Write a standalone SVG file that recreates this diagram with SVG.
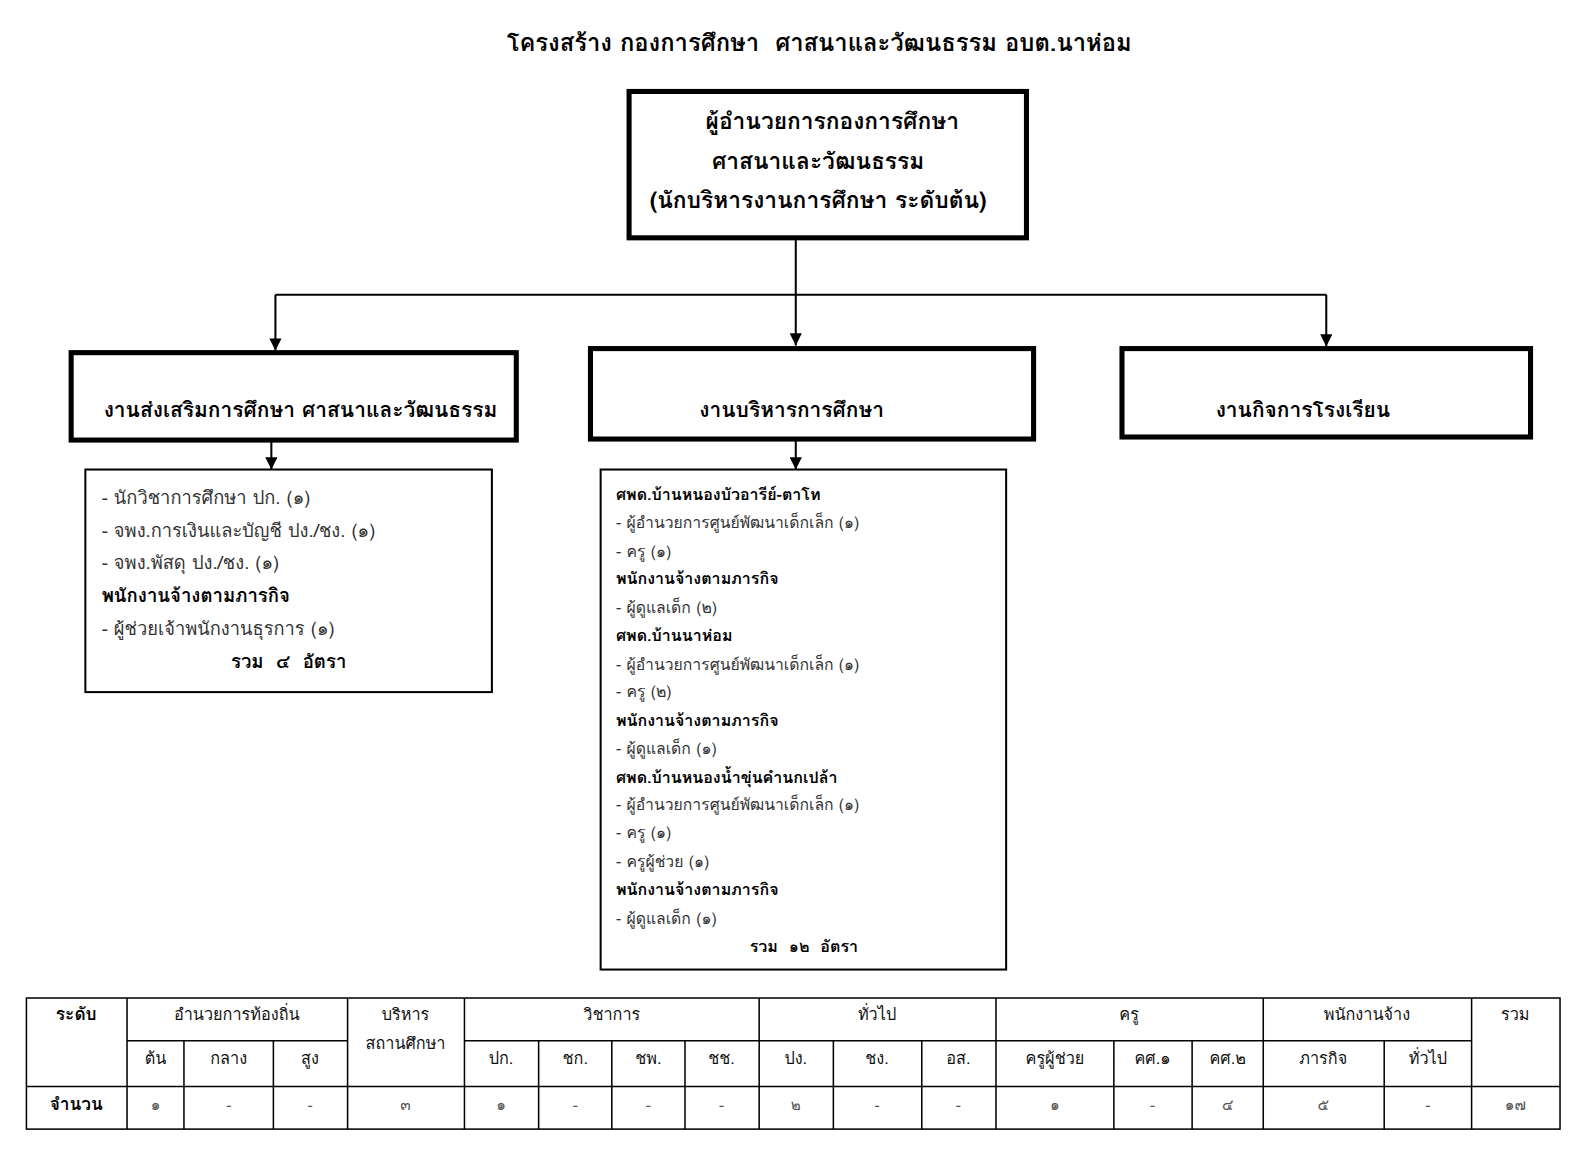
<svg xmlns="http://www.w3.org/2000/svg" width="1593" height="1158" viewBox="0 0 1593 1158">
<defs>
<marker id="arr" viewBox="0 0 12 12" refX="12" refY="6" markerWidth="12" markerHeight="12" markerUnits="userSpaceOnUse" orient="auto">
<path d="M0,0 L12,6 L0,12 z" fill="#000"/>
</marker>
<style>
text{font-family:"Tahoma","Loma","Garuda","Waree","Noto Sans Thai Looped","Noto Sans Thai","Noto Sans","DejaVu Sans",sans-serif;fill:#000;white-space:pre}
.title{font-size:23.4px;font-weight:bold}
.h{font-size:22.4px;font-weight:bold}
.hb{font-size:20.6px;font-weight:bold}
.it{font-size:18px;fill:#333}
.bd{font-size:18.3px;font-weight:bold}
.it2{font-size:15.5px;fill:#333}
.bd2{font-size:15.8px;font-weight:bold}
.th{font-size:16px;fill:#111}
.tb{font-size:17px;font-weight:bold}
.td{font-size:15px;fill:#555}
.thick{fill:#fff;stroke:#000;stroke-width:5}
.thin{fill:#fff;stroke:#000;stroke-width:2}
.con{fill:none;stroke:#000;stroke-width:2}
.grid{stroke:#000;stroke-width:1.5;fill:none}
</style>
</defs>
<rect width="1593" height="1158" fill="#fff"/>
<g transform="scale(1.0163)">
<text class="title" x="806" y="50" text-anchor="middle">โครงสร้าง กองการศึกษา  ศาสนาและวัฒนธรรม อบต.นาห่อม</text>

<g id="connectors">
<path class="con" d="M783,234 V340" marker-end="url(#arr)"/>
<path class="con" d="M271,290 H1305"/>
<path class="con" d="M271,290 V345" marker-end="url(#arr)"/>
<path class="con" d="M1305,290 V341" marker-end="url(#arr)"/>
<path class="con" d="M267,433 V462" marker-end="url(#arr)"/>
<path class="con" d="M783,432 V462" marker-end="url(#arr)"/>
</g>

<g id="director">
<rect class="thick" x="619" y="90" width="391" height="144"/>
<text class="h" x="819" y="127" text-anchor="middle">ผู้อำนวยการกองการศึกษา</text>
<text class="h" x="805" y="166" text-anchor="middle">ศาสนาและวัฒนธรรม</text>
<text class="h" x="805" y="205" text-anchor="middle">(นักบริหารงานการศึกษา ระดับต้น)</text>
</g>

<g id="promo">
<rect class="thick" x="70" y="347" width="438" height="86"/>
<text class="hb" x="102" y="410">งานส่งเสริมการศึกษา ศาสนาและวัฒนธรรม</text>
</g>

<g id="admin">
<rect class="thick" x="581" y="343" width="436" height="89"/>
<text class="hb" x="779" y="410" text-anchor="middle">งานบริหารการศึกษา</text>
</g>

<g id="school">
<rect class="thick" x="1104" y="343" width="402" height="87"/>
<text class="hb" x="1282" y="410" text-anchor="middle">งานกิจการโรงเรียน</text>
</g>

<g id="promo-staff">
<rect class="thin" x="84" y="462" width="400" height="219"/>
<text class="it" x="100" y="496">- นักวิชาการศึกษา ปก. (๑)</text>
<text class="it" x="100" y="528">- จพง.การเงินและบัญชี ปง./ชง. (๑)</text>
<text class="it" x="100" y="560">- จพง.พัสดุ ปง./ชง. (๑)</text>
<text class="bd" x="100" y="592">พนักงานจ้างตามภารกิจ</text>
<text class="it" x="100" y="625">- ผู้ช่วยเจ้าพนักงานธุรการ (๑)</text>
<text class="bd" x="284" y="657" text-anchor="middle">รวม  ๔  อัตรา</text>
</g>

<g id="admin-staff">
<rect class="thin" x="591" y="462" width="399" height="492"/>
<text class="bd2" x="606" y="492">ศพด.บ้านหนองบัวอารีย์-ตาโท</text>
<text class="it2" x="606" y="520">- ผู้อำนวยการศูนย์พัฒนาเด็กเล็ก (๑)</text>
<text class="it2" x="606" y="548">- ครู (๑)</text>
<text class="bd2" x="606" y="575">พนักงานจ้างตามภารกิจ</text>
<text class="it2" x="606" y="603">- ผู้ดูแลเด็ก (๒)</text>
<text class="bd2" x="606" y="631">ศพด.บ้านนาห่อม</text>
<text class="it2" x="606" y="659">- ผู้อำนวยการศูนย์พัฒนาเด็กเล็ก (๑)</text>
<text class="it2" x="606" y="686">- ครู (๒)</text>
<text class="bd2" x="606" y="714">พนักงานจ้างตามภารกิจ</text>
<text class="it2" x="606" y="742">- ผู้ดูแลเด็ก (๑)</text>
<text class="bd2" x="606" y="770">ศพด.บ้านหนองน้ำขุ่นคำนกเปล้า</text>
<text class="it2" x="606" y="797">- ผู้อำนวยการศูนย์พัฒนาเด็กเล็ก (๑)</text>
<text class="it2" x="606" y="825">- ครู (๑)</text>
<text class="it2" x="606" y="853">- ครูผู้ช่วย (๑)</text>
<text class="bd2" x="606" y="881">พนักงานจ้างตามภารกิจ</text>
<text class="it2" x="606" y="909">- ผู้ดูแลเด็ก (๑)</text>
<text class="bd2" x="791" y="937" text-anchor="middle">รวม  ๑๒  อัตรา</text>
</g>

<g id="summary-table">
<rect class="grid" x="26" y="982" width="1509" height="129"/>
<path class="grid" d="M26,1069 H1535 M125,1024 H342 M457,1024 H1448"/>
<path class="grid" d="M125,982 V1111 M342,982 V1111 M457,982 V1111 M747,982 V1111 M980,982 V1111 M1243,982 V1111 M1448,982 V1111"/>
<path class="grid" d="M181,1024 V1111 M269,1024 V1111 M530,1024 V1111 M602,1024 V1111 M674,1024 V1111 M820,1024 V1111 M907,1024 V1111 M1096,1024 V1111 M1173,1024 V1111 M1362,1024 V1111"/>
<g text-anchor="middle">
<text class="tb" x="75" y="1004">ระดับ</text>
<text class="th" x="233" y="1004">อำนวยการท้องถิ่น</text>
<text class="th" x="399" y="1004">บริหาร</text>
<text class="th" x="399" y="1032">สถานศึกษา</text>
<text class="th" x="602" y="1004">วิชาการ</text>
<text class="th" x="863" y="1004">ทั่วไป</text>
<text class="th" x="1111" y="1004">ครู</text>
<text class="th" x="1345" y="1004">พนักงานจ้าง</text>
<text class="th" x="1491" y="1004">รวม</text>
<text class="th" x="153" y="1047">ต้น</text>
<text class="th" x="225" y="1047">กลาง</text>
<text class="th" x="305" y="1047">สูง</text>
<text class="th" x="493" y="1047">ปก.</text>
<text class="th" x="566" y="1047">ชก.</text>
<text class="th" x="638" y="1047">ชพ.</text>
<text class="th" x="710" y="1047">ชช.</text>
<text class="th" x="783" y="1047">ปง.</text>
<text class="th" x="863" y="1047">ชง.</text>
<text class="th" x="943" y="1047">อส.</text>
<text class="th" x="1038" y="1047">ครูผู้ช่วย</text>
<text class="th" x="1134" y="1047">คศ.๑</text>
<text class="th" x="1208" y="1047">คศ.๒</text>
<text class="th" x="1302" y="1047">ภารกิจ</text>
<text class="th" x="1405" y="1047">ทั่วไป</text>
<text class="tb" x="75" y="1092">จำนวน</text>
<text class="td" x="153" y="1092">๑</text>
<text class="td" x="225" y="1092">-</text>
<text class="td" x="305" y="1092">-</text>
<text class="td" x="399" y="1092">๓</text>
<text class="td" x="493" y="1092">๑</text>
<text class="td" x="566" y="1092">-</text>
<text class="td" x="638" y="1092">-</text>
<text class="td" x="710" y="1092">-</text>
<text class="td" x="783" y="1092">๒</text>
<text class="td" x="863" y="1092">-</text>
<text class="td" x="943" y="1092">-</text>
<text class="td" x="1038" y="1092">๑</text>
<text class="td" x="1134" y="1092">-</text>
<text class="td" x="1208" y="1092">๔</text>
<text class="td" x="1302" y="1092">๕</text>
<text class="td" x="1405" y="1092">-</text>
<text class="td" x="1491" y="1092">๑๗</text>
</g>
</g>
</g>
</svg>
